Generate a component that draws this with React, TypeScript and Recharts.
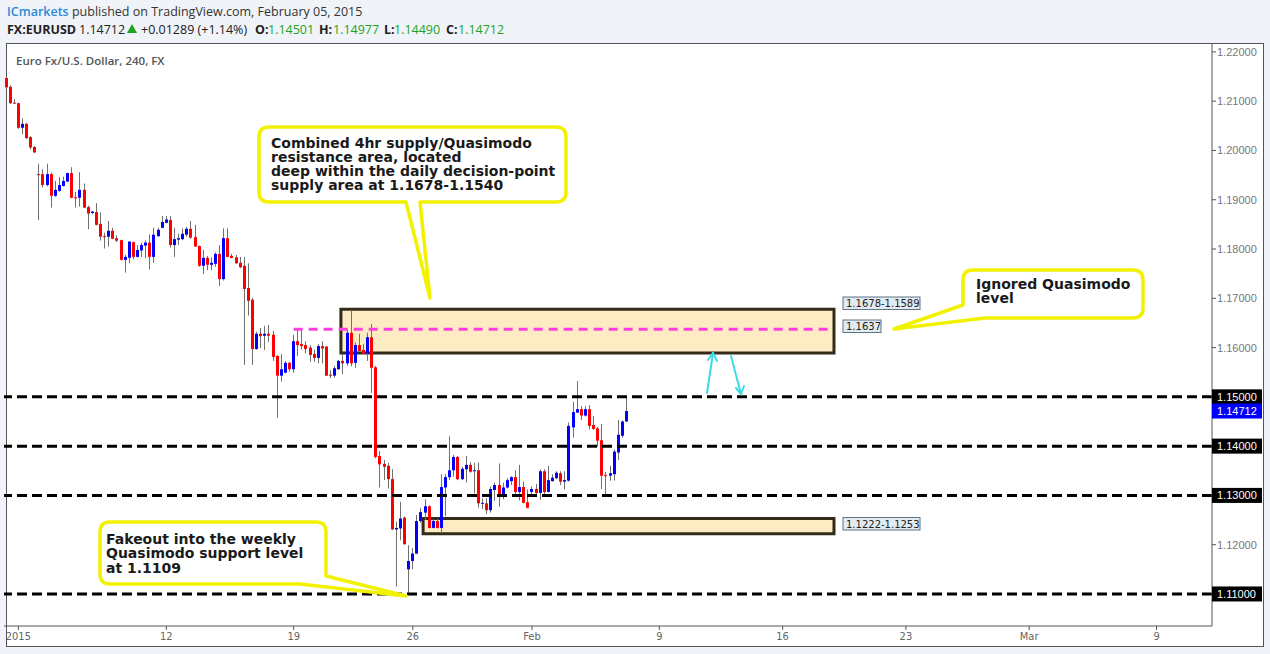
import React from "react";
import { ComposedChart, Bar, XAxis, YAxis, ReferenceLine, ReferenceArea } from "recharts";

// 4h candles, [open, high, low, close]
const jan1 = [
  [1.2147, 1.2149, 1.2127, 1.2128], [1.2129, 1.2132, 1.2094, 1.2096], [1.2097, 1.2104, 1.2094, 1.2096],
  [1.2096, 1.2097, 1.2044, 1.2046], [1.2046, 1.2065, 1.2033, 1.2054], [1.2054, 1.2056, 1.2023, 1.2025],
  [1.2027, 1.2029, 1.2002, 1.2006], [1.2007, 1.2009, 1.1995, 1.1996],
];
const jan5 = [
  [1.1952, 1.1973, 1.1859, 1.1951], [1.1952, 1.1962, 1.1925, 1.193], [1.193, 1.1973, 1.1927, 1.1952],
  [1.1952, 1.1955, 1.1884, 1.1908], [1.1908, 1.1938, 1.1906, 1.192], [1.1918, 1.1946, 1.1916, 1.193],
  [1.1928, 1.1947, 1.1927, 1.1938], [1.1937, 1.1955, 1.1935, 1.1954], [1.1954, 1.1966, 1.1903, 1.1904],
  [1.1905, 1.1916, 1.1884, 1.1904], [1.1904, 1.1956, 1.1886, 1.192], [1.192, 1.1933, 1.1883, 1.1884],
  [1.1885, 1.1888, 1.184, 1.1872], [1.1873, 1.1877, 1.1871, 1.1876], [1.1875, 1.1893, 1.1848, 1.1849],
  [1.1851, 1.1874, 1.1817, 1.1825], [1.1826, 1.1833, 1.1801, 1.1825], [1.1825, 1.1857, 1.1805, 1.1837],
  [1.1837, 1.1843, 1.182, 1.1821], [1.1822, 1.1828, 1.1814, 1.1817], [1.1818, 1.1819, 1.1777, 1.1778],
  [1.1778, 1.1788, 1.1752, 1.1784], [1.1782, 1.1816, 1.1771, 1.1815], [1.1814, 1.1815, 1.1779, 1.1784],
  [1.1784, 1.1808, 1.1783, 1.1798], [1.1797, 1.1813, 1.1784, 1.1808], [1.1807, 1.1817, 1.1782, 1.1813],
  [1.1813, 1.1829, 1.1759, 1.1784], [1.1784, 1.1843, 1.1772, 1.1829], [1.1826, 1.1843, 1.1825, 1.1839],
  [1.1843, 1.1867, 1.1842, 1.1855],
];
const jan12 = [
  [1.1853, 1.1867, 1.1852, 1.186], [1.1859, 1.1867, 1.1803, 1.1808], [1.1808, 1.1843, 1.1784, 1.182],
  [1.1819, 1.1831, 1.1808, 1.1822], [1.182, 1.1842, 1.1818, 1.1831], [1.1829, 1.1845, 1.1825, 1.1841],
  [1.1841, 1.1857, 1.1821, 1.1823], [1.1824, 1.1849, 1.1804, 1.1805], [1.1806, 1.1807, 1.1764, 1.1766],
  [1.1766, 1.1798, 1.1749, 1.1782], [1.1782, 1.1786, 1.1757, 1.1768], [1.1768, 1.1783, 1.1757, 1.1772],
  [1.177, 1.1793, 1.1764, 1.179], [1.179, 1.1808, 1.1725, 1.1739], [1.1739, 1.1842, 1.1736, 1.1822],
  [1.1822, 1.1842, 1.1783, 1.1784], [1.1786, 1.179, 1.1781, 1.1782], [1.1783, 1.1788, 1.177, 1.1771],
  [1.1772, 1.1784, 1.1761, 1.1763], [1.1766, 1.1784, 1.1565, 1.1719], [1.1721, 1.1771, 1.1665, 1.1695],
  [1.1697, 1.1701, 1.1565, 1.1597], [1.1597, 1.1632, 1.1596, 1.1628], [1.1628, 1.164, 1.1599, 1.1623],
  [1.1624, 1.1644, 1.1595, 1.1628], [1.1628, 1.1646, 1.1611, 1.1624], [1.1626, 1.1634, 1.1573, 1.1581],
  [1.1583, 1.1584, 1.1458, 1.1543], [1.1543, 1.1587, 1.1531, 1.1556], [1.1549, 1.1573, 1.1548, 1.1569],
  [1.1569, 1.1571, 1.1551, 1.1556],
];
const jan19 = [
  [1.1556, 1.1626, 1.1549, 1.1613], [1.1613, 1.1636, 1.1583, 1.1605], [1.1607, 1.1636, 1.1596, 1.1603],
  [1.1605, 1.1613, 1.1588, 1.1597], [1.16, 1.1605, 1.1571, 1.1585], [1.1587, 1.1596, 1.1571, 1.1579],
  [1.1579, 1.1607, 1.1568, 1.1603], [1.1603, 1.1613, 1.1568, 1.1598], [1.1602, 1.1603, 1.1542, 1.1543],
  [1.1545, 1.1554, 1.1538, 1.1544], [1.1543, 1.1563, 1.1539, 1.1558], [1.1556, 1.1575, 1.1555, 1.1573],
  [1.1573, 1.1587, 1.1546, 1.1568], [1.1568, 1.1636, 1.1563, 1.163], [1.163, 1.1676, 1.1562, 1.1568],
  [1.1569, 1.161, 1.1559, 1.1605], [1.1605, 1.1628, 1.1592, 1.1593], [1.1595, 1.1607, 1.1587, 1.1588],
  [1.1588, 1.163, 1.1573, 1.1621], [1.1621, 1.1648, 1.1508, 1.1559], [1.156, 1.1563, 1.1375, 1.1378],
  [1.138, 1.139, 1.1316, 1.1363], [1.1364, 1.1372, 1.1331, 1.1358], [1.136, 1.1366, 1.1314, 1.1333],
  [1.1333, 1.1353, 1.123, 1.1231], [1.1231, 1.1247, 1.1115, 1.1234], [1.1233, 1.1287, 1.1209, 1.1253],
  [1.1255, 1.1257, 1.12, 1.1201],
];
const jan26 = [
  [1.115, 1.1199, 1.1098, 1.1167], [1.1167, 1.1193, 1.115, 1.1182], [1.1182, 1.126, 1.1181, 1.1248],
  [1.1248, 1.1274, 1.1245, 1.1266], [1.1265, 1.1292, 1.125, 1.1278], [1.1278, 1.128, 1.1233, 1.1234],
  [1.1234, 1.1252, 1.1233, 1.1248], [1.1248, 1.1252, 1.1233, 1.1234], [1.1234, 1.1343, 1.1223, 1.1317],
  [1.1316, 1.1343, 1.1258, 1.1337], [1.1337, 1.142, 1.1331, 1.1351], [1.1351, 1.1382, 1.1338, 1.1378],
  [1.1378, 1.138, 1.1331, 1.1333], [1.1333, 1.1358, 1.1331, 1.1354], [1.1353, 1.138, 1.1326, 1.1362],
  [1.1362, 1.1368, 1.1346, 1.1348], [1.1349, 1.1366, 1.1304, 1.1351], [1.1351, 1.1367, 1.1275, 1.1284],
  [1.1284, 1.1294, 1.1272, 1.1285], [1.1284, 1.1294, 1.1262, 1.127], [1.127, 1.1318, 1.1265, 1.1313],
  [1.1311, 1.1326, 1.1289, 1.1321], [1.1321, 1.1365, 1.1277, 1.1301], [1.1301, 1.1326, 1.1292, 1.1316],
  [1.1316, 1.1335, 1.1314, 1.1331], [1.1329, 1.1339, 1.1321, 1.1337], [1.1337, 1.1351, 1.1303, 1.1307],
  [1.1307, 1.1362, 1.129, 1.1317], [1.1317, 1.1328, 1.1284, 1.1285], [1.1286, 1.1312, 1.1274, 1.1275],
];
const feb2 = [
  [1.1307, 1.1318, 1.1299, 1.1313], [1.1313, 1.1323, 1.1303, 1.1305], [1.1305, 1.1353, 1.1291, 1.1349],
  [1.1349, 1.1353, 1.1301, 1.1307], [1.1307, 1.136, 1.1306, 1.1331], [1.1329, 1.1343, 1.1328, 1.1336],
  [1.1335, 1.1349, 1.1333, 1.1346], [1.1345, 1.1349, 1.1321, 1.1328], [1.1328, 1.1349, 1.1312, 1.1331],
  [1.133, 1.1448, 1.1328, 1.1441], [1.1438, 1.149, 1.1417, 1.1469], [1.1468, 1.1532, 1.1467, 1.1475],
  [1.1475, 1.1481, 1.1453, 1.1462], [1.1462, 1.1481, 1.146, 1.1475], [1.1475, 1.1483, 1.1434, 1.1441],
  [1.1443, 1.1461, 1.1433, 1.1435], [1.1436, 1.1439, 1.1399, 1.1411], [1.1412, 1.1445, 1.1313, 1.134],
  [1.1341, 1.1348, 1.1301, 1.134], [1.134, 1.136, 1.133, 1.1345], [1.1343, 1.1393, 1.133, 1.1389],
  [1.1387, 1.1453, 1.1372, 1.1423], [1.1421, 1.1452, 1.1417, 1.145], [1.14501, 1.14977, 1.1449, 1.14712],
];

const SLOTS = 294; // bar slots across the time axis, including the empty future
const xTickIdx = [3, 39, 70, 99, 128, 159, 189, 219, 249, 280];
const xTickLabels = ["2015", "12", "19", "26", "Feb", "9", "16", "23", "Mar", "9"];
const yTicks = [1.11, 1.12, 1.13, 1.14, 1.15, 1.16, 1.17, 1.18, 1.19, 1.2, 1.21, 1.22, 1.14712];
const levels = [1.15, 1.14, 1.13, 1.11];
const lastPrice = 1.14712;
const supplyZone = { from: 82, to: 201, low: 1.1589, high: 1.1678 };
const demandZone = { from: 102, to: 201, low: 1.1222, high: 1.1253 };
const qmLevel = { from: 70, to: 201, price: 1.1637 };

const candles = [...jan1, ...jan5, ...jan12, ...jan19, ...jan26, ...feb2];
const data = Array.from({ length: SLOTS }, (_, i) => {
  const c = candles[i];
  return c ? { i, o: c[0], h: c[1], l: c[2], c: c[3] } : { i };
});

function Candle(props: any) {
  const { x, y, width, height, payload } = props;
  if (!payload || payload.h == null) return null;
  const top = Math.min(y, y + height);
  const span = Math.abs(height);
  const range = payload.h - payload.l;
  const py = (v: number) => top + (range > 0 ? ((payload.h - v) / range) * span : 0);
  const bx = Math.round(x + width / 2 - 1.5);
  const yo = py(payload.o);
  const yc = py(payload.c);
  const up = payload.c >= payload.o;
  return (
    <g>
      <line x1={bx + 1.5} x2={bx + 1.5} y1={top} y2={top + span} stroke="#707070" strokeWidth={1} />
      <rect x={bx} y={Math.min(yo, yc)} width={3} height={Math.max(1, Math.abs(yo - yc))} fill={up ? "#0000ff" : "#ff0000"} />
    </g>
  );
}

function PriceTick(props: any) {
  const { x, y, payload } = props;
  const v = payload.value;
  const boxed = levels.includes(v);
  const isLast = v === lastPrice;
  const font = { fontFamily: "'Liberation Sans', Arial, sans-serif", fontSize: 11 };
  if (boxed || isLast) {
    return (
      <g>
        <rect x={x - 6} y={y - 7.5} width={50} height={15} fill={isLast ? "#0000ff" : "#000"} />
        <text x={x - 1} y={y + 4} fill="#fff" {...font}>{v.toFixed(5)}</text>
      </g>
    );
  }
  return <text x={x - 1} y={y + 4} fill="#777" {...font}>{v.toFixed(5)}</text>;
}

const boldNote = { fontFamily: "'DejaVu Sans', Verdana, sans-serif", fontWeight: 700, fontSize: 14, fill: "#1a1a1a" };
const tagFont = { fontFamily: "'DejaVu Sans', Verdana, sans-serif", fontSize: 10, fill: "#222" };
const yellow = "#f2f200";
const cyan = "#3cdce6";

export default function App() {
  return (
    <div style={{ position: "relative", width: 1270, height: 654, background: "#f0f3f8", overflow: "hidden" }}>
      <style>{`body{margin:0}`}</style>
      <div style={{ position: "absolute", left: 6, top: 43, width: 1258, height: 604, boxSizing: "border-box", border: "1px solid #555", background: "#fff" }} />
      <div style={{ position: "absolute", left: 0, top: 0 }}>
        <ComposedChart width={1270} height={654} data={data} margin={{ top: 44, right: 7, bottom: 8, left: 4 }} barCategoryGap={0}>
          <XAxis
            dataKey="i"
            type="category"
            ticks={xTickIdx}
            interval={0}
            tickFormatter={(v: number) => xTickLabels[xTickIdx.indexOf(v)] ?? ""}
            tick={{ fill: "#666", fontSize: 11, fontFamily: "'Liberation Sans Narrow', 'DejaVu Sans Condensed', sans-serif" }}
            tickSize={4}
            height={20}
            axisLine={{ stroke: "#555" }}
            tickLine={{ stroke: "#555" }}
          />
          <YAxis
            orientation="right"
            width={51}
            domain={[1.1035, 1.2216]}
            allowDataOverflow
            ticks={yTicks}
            interval={0}
            tickSize={4}
            tickMargin={2}
            tick={<PriceTick />}
            axisLine={{ stroke: "#555" }}
            tickLine={{ stroke: "#555" }}
          />
          <ReferenceArea x1={supplyZone.from} x2={supplyZone.to} y1={supplyZone.low} y2={supplyZone.high} fill="#fdebc3" fillOpacity={1} stroke="#332a1a" strokeWidth={3} />
          <ReferenceArea x1={demandZone.from} x2={demandZone.to} y1={demandZone.low} y2={demandZone.high} fill="#fdebc3" fillOpacity={1} stroke="#332a1a" strokeWidth={3} />
          {levels.map((lv) => (
            <ReferenceLine key={lv} y={lv} stroke="#000" strokeWidth={3} strokeDasharray="10 5" />
          ))}
          <ReferenceLine
            segment={[{ x: qmLevel.from, y: qmLevel.price }, { x: qmLevel.to, y: qmLevel.price }]}
            stroke="#ff40e0"
            strokeWidth={3}
            strokeDasharray="9 6"
          />
          <Bar dataKey={(d: any) => (d.h != null ? [d.l, d.h] : null)} shape={<Candle />} isAnimationActive={false} />
        </ComposedChart>
      </div>
      <svg width={1270} height={654} style={{ position: "absolute", left: 0, top: 0, pointerEvents: "none" }}>
        {/* header */}
        <text x={7} y={16} fontFamily="'Open Sans', sans-serif" fontSize={12.5} fill="#333">
          <tspan fill="#2a8bd3" fontWeight={600}>ICmarkets</tspan>
          <tspan> published on TradingView.com, February 05, 2015</tspan>
        </text>
        <g fontFamily="'Open Sans', sans-serif" fontSize={12.5}>
          <text x={7} y={34} fontWeight={700} fill="#222">FX:EURUSD</text>
          <text x={79} y={34} fill="#222">1.14712</text>
          <path d="M127 33 L132 24 L137 33 Z" fill="#1fa31f" />
          <text x={141} y={34} fill="#222">+0.01289 (+1.14%)</text>
          <text x={255} y={34} fontWeight={700} fill="#222">O:</text>
          <text x={268} y={34} fill="#1fa31f">1.14501</text>
          <text x={319} y={34} fontWeight={700} fill="#222">H:</text>
          <text x={333} y={34} fill="#1fa31f">1.14977</text>
          <text x={384} y={34} fontWeight={700} fill="#222">L:</text>
          <text x={394} y={34} fill="#1fa31f">1.14490</text>
          <text x={446} y={34} fontWeight={700} fill="#222">C:</text>
          <text x={458} y={34} fill="#1fa31f">1.14712</text>
        </g>
        <text x={16} y={65} fontFamily="'Open Sans', sans-serif" fontWeight={600} fontSize={11.5} fill="#555">
          Euro Fx/U.S. Dollar, 240, FX
        </text>

        {/* zone tags */}
        <rect x={843} y={297} width={77} height={12.5} fill="#e3ebf2" stroke="#5f7383" />
        <text x={846} y={307} {...tagFont}>1.1678-1.1589</text>
        <rect x={843} y={320} width={38} height={12.5} fill="#e3ebf2" stroke="#5f7383" />
        <text x={846} y={330} {...tagFont}>1.1637</text>
        <rect x={843} y={517.5} width={77} height={12.5} fill="#e3ebf2" stroke="#5f7383" />
        <text x={846} y={527.5} {...tagFont}>1.1222-1.1253</text>

        {/* cyan arrows */}
        <g stroke={cyan} strokeWidth={2} fill="none" strokeLinecap="round">
          <path d="M707 393 L713 353" />
          <path d="M708 360 L713 353 L717 361" />
          <path d="M731 356 L741 394" />
          <path d="M736 388 L741 394 L744 386" />
        </g>

        {/* callouts */}
        <path
          d="M269 127 H556 Q566 127 566 137 V192 Q566 202 556 202 H420 L430 298 L406 202 H269 Q259 202 259 192 V137 Q259 127 269 127 Z"
          fill="#fff" stroke={yellow} strokeWidth={3.5} strokeLinejoin="round"
        />
        <text {...boldNote}>
          <tspan x={271} y={148}>Combined 4hr supply/Quasimodo</tspan>
          <tspan x={271} y={162}>resistance area, located</tspan>
          <tspan x={271} y={176}>deep within the daily decision-point</tspan>
          <tspan x={271} y={190}>supply area at 1.1678-1.1540</tspan>
        </text>

        <path
          d="M973 270 H1133 Q1143 270 1143 280 V308 Q1143 318 1133 318 H985 L894 329 L963 305 V280 Q963 270 973 270 Z"
          fill="#fff" stroke={yellow} strokeWidth={3.5} strokeLinejoin="round"
        />
        <text {...boldNote}>
          <tspan x={976} y={289}>Ignored Quasimodo</tspan>
          <tspan x={976} y={303}>level</tspan>
        </text>

        <path
          d="M110 522 H316 Q326 522 326 532 V576 L406 596 L300 584 H110 Q100 584 100 574 V532 Q100 522 110 522 Z"
          fill="#fff" stroke={yellow} strokeWidth={3.5} strokeLinejoin="round"
        />
        <text {...boldNote}>
          <tspan x={106} y={544}>Fakeout into the weekly</tspan>
          <tspan x={106} y={558}>Quasimodo support level</tspan>
          <tspan x={106} y={573}>at 1.1109</tspan>
        </text>
      </svg>
    </div>
  );
}
